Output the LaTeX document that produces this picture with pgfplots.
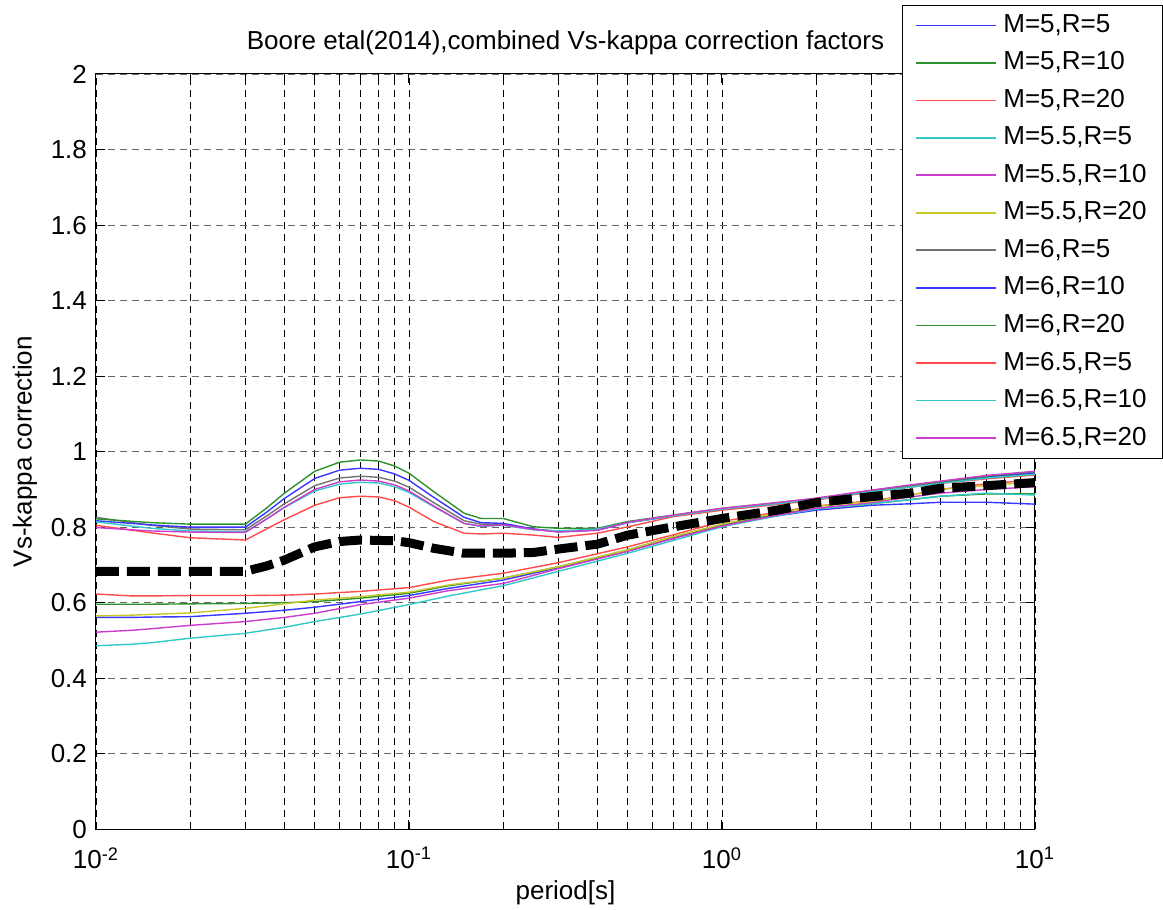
\documentclass[border=0pt]{standalone}
\usepackage{fontspec}
\setmainfont{Liberation Sans}
\usepackage{pgfplots}
\usepackage{pgfplotstable}
\pgfplotsset{compat=1.18}

\definecolor{mblue}{RGB}{55,55,255}
\definecolor{mgreen}{RGB}{45,145,45}
\definecolor{mred}{RGB}{255,75,75}
\definecolor{mcyan}{RGB}{50,200,200}
\definecolor{mmagenta}{RGB}{205,60,205}
\definecolor{myellow}{RGB}{200,200,40}
\definecolor{mgray}{RGB}{115,115,115}

% M=6 and M=6.5 (the curves with the bump)
\pgfplotstableread{
T      gray  blue  green red   cyan  magenta
0.01   0.826 0.817 0.822 0.805 0.814 0.799
0.015  0.805 0.806 0.812 0.785 0.797 0.790
0.02   0.795 0.800 0.808 0.772 0.790 0.787
0.03   0.793 0.800 0.808 0.766 0.788 0.786
0.035  0.829 0.839 0.850 0.795 0.821 0.821
0.04   0.862 0.876 0.890 0.820 0.852 0.853
0.05   0.910 0.929 0.948 0.858 0.896 0.900
0.06   0.930 0.951 0.972 0.878 0.914 0.920
0.07   0.935 0.956 0.978 0.882 0.919 0.925
0.08   0.932 0.953 0.975 0.880 0.917 0.922
0.09   0.922 0.941 0.962 0.870 0.907 0.912
0.1    0.906 0.924 0.943 0.853 0.892 0.896
0.12   0.865 0.879 0.894 0.815 0.854 0.856
0.15   0.817 0.826 0.837 0.784 0.810 0.810
0.17   0.808 0.812 0.823 0.782 0.802 0.803
0.2    0.808 0.810 0.823 0.784 0.805 0.806
0.25   0.795 0.795 0.801 0.779 0.793 0.794
0.3    0.789 0.788 0.797 0.773 0.790 0.787
0.4    0.793 0.792 0.797 0.784 0.795 0.792
0.5    0.812 0.812 0.815 0.801 0.812 0.813
0.7    0.830 0.830 0.832 0.828 0.830 0.832
1      0.848 0.848 0.850 0.845 0.848 0.850
1.5    0.862 0.862 0.865 0.860 0.862 0.865
2      0.874 0.874 0.876 0.872 0.874 0.877
3      0.895 0.895 0.897 0.893 0.894 0.898
4      0.908 0.908 0.910 0.906 0.906 0.912
5      0.918 0.918 0.920 0.916 0.916 0.922
7      0.932 0.933 0.935 0.928 0.930 0.937
10     0.943 0.944 0.947 0.938 0.940 0.948
}\hiM

% M=5 and M=5.5
\pgfplotstableread{
T      blue  green red   cyan  magenta yellow
0.01   0.561 0.596 0.623 0.486 0.522 0.565
0.013  0.561 0.596 0.618 0.490 0.527 0.567
0.015  0.562 0.596 0.618 0.494 0.531 0.569
0.02   0.563 0.597 0.619 0.506 0.540 0.573
0.03   0.572 0.598 0.619 0.519 0.550 0.585
0.04   0.580 0.600 0.620 0.535 0.561 0.597
0.05   0.588 0.603 0.623 0.550 0.572 0.607
0.07   0.603 0.612 0.630 0.570 0.595 0.616
0.1    0.619 0.625 0.640 0.595 0.612 0.628
0.134  0.638 0.645 0.660 0.618 0.632 0.647
0.2    0.660 0.665 0.678 0.645 0.651 0.665
0.3    0.693 0.695 0.706 0.683 0.690 0.695
0.5    0.738 0.740 0.748 0.731 0.736 0.740
0.7    0.772 0.775 0.780 0.765 0.770 0.775
1      0.804 0.806 0.815 0.801 0.803 0.808
1.5    0.830 0.835 0.840 0.830 0.832 0.838
2      0.845 0.850 0.856 0.848 0.850 0.855
3      0.858 0.862 0.870 0.862 0.865 0.868
4      0.862 0.873 0.885 0.873 0.880 0.885
5      0.866 0.882 0.900 0.882 0.890 0.900
7      0.866 0.888 0.915 0.890 0.900 0.910
10     0.861 0.888 0.925 0.885 0.907 0.920
}\loM

% combined factor (thick dashed)
\pgfplotstableread{
T      f
0.01   0.683
0.02   0.683
0.03   0.683
0.035  0.697
0.04   0.713
0.05   0.748
0.06   0.762
0.07   0.766
0.09   0.764
0.1    0.759
0.12   0.744
0.15   0.731
0.2    0.731
0.25   0.733
0.3    0.742
0.4    0.755
0.5    0.779
0.7    0.801
1      0.823
1.5    0.845
2      0.865
3      0.881
4      0.890
5      0.903
7      0.910
10     0.918
}\comb

\begin{document}
\fontsize{13}{15}\selectfont
\begin{tikzpicture}
\begin{axis}[
    scale only axis,
    width=469.5pt, height=377.65pt,
    font=\fontsize{13}{15}\selectfont,
    xmode=log,
    xmin=0.01, xmax=10,
    ymin=0, ymax=2,
    xtick={0.01,0.1,1,10},
    xticklabels={10\textsuperscript{-2},10\textsuperscript{-1},10\textsuperscript{0},10\textsuperscript{1}},
    minor xtick={0.02,0.03,0.04,0.05,0.06,0.07,0.08,0.09,0.2,0.3,0.4,0.5,0.6,0.7,0.8,0.9,2,3,4,5,6,7,8,9},
    ytick={0,0.2,0.4,0.6,0.8,1,1.2,1.4,1.6,1.8,2},
    /pgf/number format/assume math mode=true,
    xticklabel style={yshift=-4.5pt},
    tick align=inside,
    major tick length=4.5pt,
    minor tick length=2.5pt,
    tick style={black, line width=0.5pt},
    axis line style={black, line width=0.5pt},
    xmajorgrids, xminorgrids, ymajorgrids,
    grid style={dash pattern=on 3.5pt off 2.5pt, line width=0.45pt},
    x grid style={black},
    y grid style={black!60},
    title={Boore etal(2014),combined Vs-kappa correction factors},
    title style={at={(axis description cs:0.5,1.025)}, anchor=center},
    xlabel={period[s]},
    xlabel style={at={(axis description cs:0.5,-0.0847)}, anchor=center},
    ylabel={Vs-kappa correction},
    ylabel style={at={(axis description cs:-0.0756,0.5)}, anchor=center},
    every axis plot/.append style={line width=0.7pt},
    legend cell align=left,
    legend image code/.code={\draw[#1, line width=0.8pt] (0pt,0pt) -- (40pt,0pt);},
    legend style={at={(axis description cs:1.1363,1.0914)}, anchor=north east,
        draw=black, fill=white, line width=0.5pt,
        font=\fontsize{13}{15}\selectfont,
        inner xsep=6pt, inner ysep=2.5pt, row sep=3.75pt,
        /tikz/every odd column/.append style={column sep=1.5pt}},
]
\addplot[mblue]    table[x=T, y=blue]    {\loM}; \addlegendentry{M=5,R=5}
\addplot[mgreen]   table[x=T, y=green]   {\loM}; \addlegendentry{M=5,R=10}
\addplot[mred]     table[x=T, y=red]     {\loM}; \addlegendentry{M=5,R=20}
\addplot[mcyan]    table[x=T, y=cyan]    {\loM}; \addlegendentry{M=5.5,R=5}
\addplot[mmagenta] table[x=T, y=magenta] {\loM}; \addlegendentry{M=5.5,R=10}
\addplot[myellow]  table[x=T, y=yellow]  {\loM}; \addlegendentry{M=5.5,R=20}
\addplot[mgray]    table[x=T, y=gray]    {\hiM}; \addlegendentry{M=6,R=5}
\addplot[mblue]    table[x=T, y=blue]    {\hiM}; \addlegendentry{M=6,R=10}
\addplot[mgreen]   table[x=T, y=green]   {\hiM}; \addlegendentry{M=6,R=20}
\addplot[mred]     table[x=T, y=red]     {\hiM}; \addlegendentry{M=6.5,R=5}
\addplot[mcyan]    table[x=T, y=cyan]    {\hiM}; \addlegendentry{M=6.5,R=10}
\addplot[mmagenta] table[x=T, y=magenta] {\hiM}; \addlegendentry{M=6.5,R=20}
\addplot[black, line width=4.5pt, dash pattern=on 11.5pt off 4pt, forget plot]
    table[x=T, y=f] {\comb};
\end{axis}
\pgfresetboundingbox
\path[use as bounding box] (-48pt,-40.35pt) rectangle (533.5pt,414.65pt);
\end{tikzpicture}
\end{document}
